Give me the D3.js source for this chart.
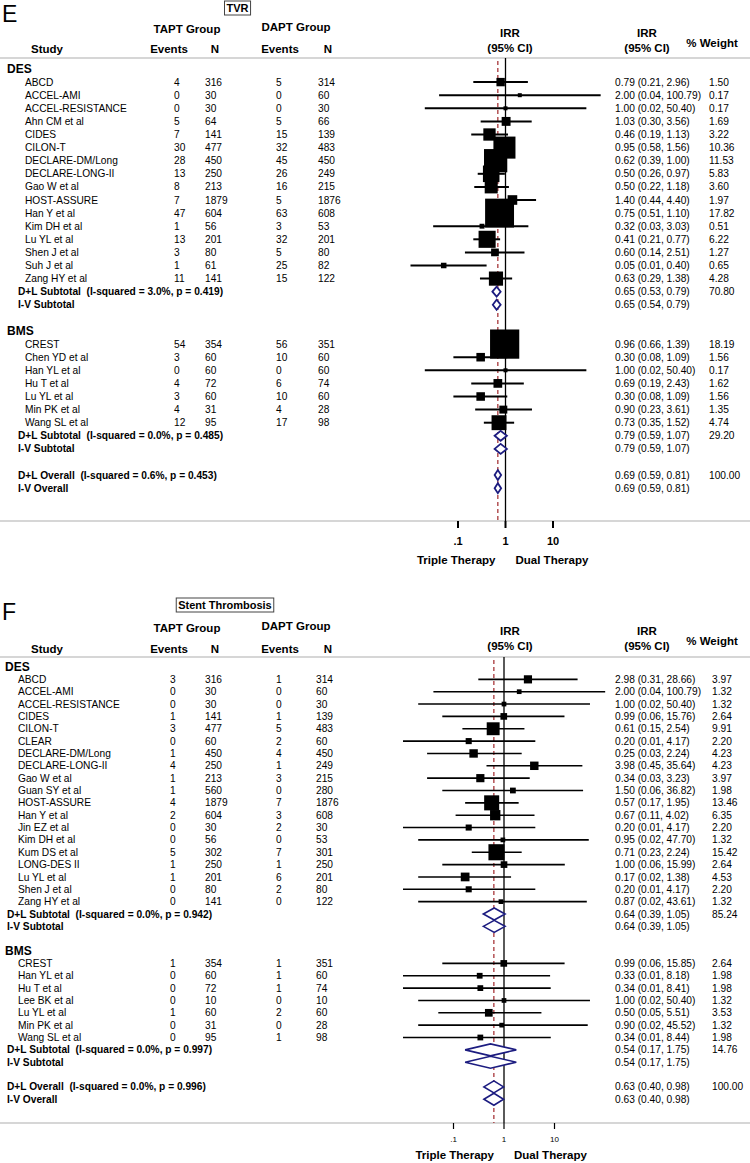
<!DOCTYPE html>
<html><head><meta charset="utf-8">
<script src="https://cdn.jsdelivr.net/npm/d3@7"></script>
<style>body{margin:0;background:#fff} svg text{font-family:"Liberation Sans",Arial,Helvetica,sans-serif;fill:#000;white-space:pre}</style>
</head><body><svg id="c" width="750" height="1163"></svg>
<script>
// ---- Panel E: TVR ----  [study, TAPT events, TAPT N, DAPT events, DAPT N, IRR, lower, upper, %weight]
const E_DES = [
 ["ABCD",4,316,5,314,0.79,0.21,2.96,1.50],
 ["ACCEL-AMI",0,30,0,60,2.00,0.04,100.79,0.17],
 ["ACCEL-RESISTANCE",0,30,0,30,1.00,0.02,50.40,0.17],
 ["Ahn CM et al",5,64,5,66,1.03,0.30,3.56,1.69],
 ["CIDES",7,141,15,139,0.46,0.19,1.13,3.22],
 ["CILON-T",30,477,32,483,0.95,0.58,1.56,10.36],
 ["DECLARE-DM/Long",28,450,45,450,0.62,0.39,1.00,11.53],
 ["DECLARE-LONG-II",13,250,26,249,0.50,0.26,0.97,5.83],
 ["Gao W et al",8,213,16,215,0.50,0.22,1.18,3.60],
 ["HOST-ASSURE",7,1879,5,1876,1.40,0.44,4.40,1.97],
 ["Han Y et al",47,604,63,608,0.75,0.51,1.10,17.82],
 ["Kim DH et al",1,56,3,53,0.32,0.03,3.03,0.51],
 ["Lu YL et al",13,201,32,201,0.41,0.21,0.77,6.22],
 ["Shen J et al",3,80,5,80,0.60,0.14,2.51,1.27],
 ["Suh J et al",1,61,25,82,0.05,0.01,0.40,0.65],
 ["Zang HY et al",11,141,15,122,0.63,0.29,1.38,4.28]
];
const E_DES_SUM = [["D+L Subtotal  (I-squared = 3.0%, p = 0.419)",0.65,0.53,0.79,70.80],["I-V Subtotal",0.65,0.54,0.79,null]];
const E_BMS = [
 ["CREST",54,354,56,351,0.96,0.66,1.39,18.19],
 ["Chen YD et al",3,60,10,60,0.30,0.08,1.09,1.56],
 ["Han YL et al",0,60,0,60,1.00,0.02,50.40,0.17],
 ["Hu T et al",4,72,6,74,0.69,0.19,2.43,1.62],
 ["Lu YL et al",3,60,10,60,0.30,0.08,1.09,1.56],
 ["Min PK et al",4,31,4,28,0.90,0.23,3.61,1.35],
 ["Wang SL et al",12,95,17,98,0.73,0.35,1.52,4.74]
];
const E_BMS_SUM = [["D+L Subtotal  (I-squared = 0.0%, p = 0.485)",0.79,0.59,1.07,29.20],["I-V Subtotal",0.79,0.59,1.07,null]];
const E_OVERALL = [["D+L Overall  (I-squared = 0.6%, p = 0.453)",0.69,0.59,0.81,100.00],["I-V Overall",0.69,0.59,0.81,null]];

// ---- Panel F: Stent Thrombosis ----
const F_DES = [
 ["ABCD",3,316,1,314,2.98,0.31,28.66,3.97],
 ["ACCEL-AMI",0,30,0,60,2.00,0.04,100.79,1.32],
 ["ACCEL-RESISTANCE",0,30,0,30,1.00,0.02,50.40,1.32],
 ["CIDES",1,141,1,139,0.99,0.06,15.76,2.64],
 ["CILON-T",3,477,5,483,0.61,0.15,2.54,9.91],
 ["CLEAR",0,60,2,60,0.20,0.01,4.17,2.20],
 ["DECLARE-DM/Long",1,450,4,450,0.25,0.03,2.24,4.23],
 ["DECLARE-LONG-II",4,250,1,249,3.98,0.45,35.64,4.23],
 ["Gao W et al",1,213,3,215,0.34,0.03,3.23,3.97],
 ["Guan SY et al",1,560,0,280,1.50,0.06,36.82,1.98],
 ["HOST-ASSURE",4,1879,7,1876,0.57,0.17,1.95,13.46],
 ["Han Y et al",2,604,3,608,0.67,0.11,4.02,6.35],
 ["Jin EZ et al",0,30,2,30,0.20,0.01,4.17,2.20],
 ["Kim DH et al",0,56,0,53,0.95,0.02,47.70,1.32],
 ["Kum DS et al",5,302,7,301,0.71,0.23,2.24,15.42],
 ["LONG-DES II",1,250,1,250,1.00,0.06,15.99,2.64],
 ["Lu YL et al",1,201,6,201,0.17,0.02,1.38,4.53],
 ["Shen J et al",0,80,2,80,0.20,0.01,4.17,2.20],
 ["Zang HY et al",0,141,0,122,0.87,0.02,43.61,1.32]
];
const F_DES_SUM = [["D+L Subtotal  (I-squared = 0.0%, p = 0.942)",0.64,0.39,1.05,85.24],["I-V Subtotal",0.64,0.39,1.05,null]];
const F_BMS = [
 ["CREST",1,354,1,351,0.99,0.06,15.85,2.64],
 ["Han YL et al",0,60,1,60,0.33,0.01,8.18,1.98],
 ["Hu T et al",0,72,1,74,0.34,0.01,8.41,1.98],
 ["Lee BK et al",0,10,0,10,1.00,0.02,50.40,1.32],
 ["Lu YL et al",1,60,2,60,0.50,0.05,5.51,3.53],
 ["Min PK et al",0,31,0,28,0.90,0.02,45.52,1.32],
 ["Wang SL et al",0,95,1,98,0.34,0.01,8.44,1.98]
];
const F_BMS_SUM = [["D+L Subtotal  (I-squared = 0.0%, p = 0.997)",0.54,0.17,1.75,14.76],["I-V Subtotal",0.54,0.17,1.75,null]];
const F_OVERALL = [["D+L Overall  (I-squared = 0.0%, p = 0.996)",0.63,0.40,0.98,100.00],["I-V Overall",0.63,0.40,0.98,null]];

const GROUP_LABELS = ["DES","BMS"];
const TICKS = [0.1, 1, 10];
const TICK_LABELS = [".1","1","10"];

const svg = d3.select("#c");
const f2 = d3.format(".2f");

function panel(cfg, groups, overall) {
  const g = svg.append("g");
  const x = d3.scaleLog().domain([0.1, 10]).range([cfg.xLo, cfg.xHi]);
  const rows = [];
  groups.forEach((gr, gi) => {
    rows.push({type:"group", label: GROUP_LABELS[gi]});
    gr.studies.forEach(s => rows.push({type:"study", d:s}));
    gr.sum.forEach(s => rows.push({type:"sum", d:s}));
    rows.push({type:"blank"});
  });
  overall.forEach(s => rows.push({type:"sum", d:s}));
  const y = d3.scaleLinear().domain([0, rows.length - 1]).range([cfg.row0, cfg.row0 + (rows.length - 1) * cfg.step]);
  rows.forEach((r, i) => r.y = y(i));

  g.append("text").attr("x", 2).attr("y", cfg.letterY).attr("font-size", 23).text(cfg.letter);
  const t = g.append("text").attr("x", cfg.titleX).attr("y", cfg.titleY).attr("text-anchor","middle")
    .attr("font-weight","bold").attr("font-size", 11).text(cfg.title);
  const bb = t.node().getBBox();
  g.append("rect").attr("x", bb.x - 2).attr("y", bb.y - 1).attr("width", bb.width + 4).attr("height", bb.height + 2)
    .attr("fill","none").attr("stroke","#444").attr("stroke-width",1);

  const hdr = (tx, xx, yy, anchor) => g.append("text").attr("x", xx).attr("y", yy).attr("text-anchor", anchor || "middle")
      .attr("font-weight","bold").attr("font-size", 11.5).text(tx);
  hdr("TAPT Group", 187, cfg.groupY);
  hdr("DAPT Group", 296, cfg.groupY - 2);
  hdr("Study", 47, cfg.colY);
  hdr("Events", 169, cfg.colY);
  hdr("N", 215, cfg.colY);
  hdr("Events", 280, cfg.colY);
  hdr("N", 328, cfg.colY);
  hdr("IRR", 510, cfg.irrY1);
  hdr("(95% CI)", 510, cfg.irrY2);
  hdr("IRR", 647, cfg.irrY1);
  hdr("(95% CI)", 647, cfg.irrY2);
  hdr("% Weight", 712, cfg.weightY);

  [cfg.headLine, cfg.axisY].forEach(yy => g.append("line").attr("x1",0).attr("x2",750).attr("y1",yy).attr("y2",yy)
     .attr("stroke","#c8c8c8").attr("stroke-width",1.5));

  const ov = overall[0][1];
  g.append("line").attr("x1", x(1)).attr("x2", x(1)).attr("y1", cfg.headLine).attr("y2", cfg.axisY)
    .attr("stroke","#000").attr("stroke-width",1.3);
  g.append("line").attr("x1", x(ov)).attr("x2", x(ov)).attr("y1", cfg.headLine + 3).attr("y2", cfg.axisY)
    .attr("stroke","#a0262a").attr("stroke-width",1.2).attr("stroke-dasharray","4,3");

  TICKS.forEach((tv, i) => {
    g.append("line").attr("x1", x(tv)).attr("x2", x(tv)).attr("y1", cfg.axisY).attr("y2", cfg.axisY + cfg.tickLen)
      .attr("stroke","#000").attr("stroke-width", cfg.tickW);
    g.append("text").attr("x", x(tv)).attr("y", cfg.tickLabY).attr("text-anchor","middle")
      .attr("font-size", cfg.tickFont).attr("font-weight", cfg.tickBold ? "bold" : "normal").text(TICK_LABELS[i]);
  });
  g.append("text").attr("x", x(1) - 10).attr("y", cfg.dirY).attr("text-anchor","end").attr("font-weight","bold").attr("font-size",11.5).text("Triple Therapy");
  g.append("text").attr("x", x(1) + 10).attr("y", cfg.dirY).attr("text-anchor","start").attr("font-weight","bold").attr("font-size",11.5).text("Dual Therapy");

  const txt = (tx, xx, yy, bold, size) => g.append("text").attr("x", xx).attr("y", yy).attr("dy","0.35em")
      .attr("font-size", size || 10.2).attr("font-weight", bold ? "bold" : "normal").text(tx);

  rows.forEach(r => {
    if (r.type === "group") {
      txt(r.label, cfg.groupX, r.y, true, 12);
    } else if (r.type === "study") {
      const d = r.d;
      txt(d[0], cfg.nameX, r.y);
      txt(d[1], cfg.tEvX, r.y); txt(d[2], 205, r.y); txt(d[3], 276, r.y); txt(d[4], cfg.dNX, r.y);
      txt(`${f2(d[5])} (${f2(d[6])}, ${f2(d[7])})`, 615, r.y);
      txt(f2(d[8]), cfg.wX, r.y);
      g.append("line").attr("x1", x(d[6])).attr("x2", x(d[7])).attr("y1", r.y).attr("y2", r.y)
        .attr("stroke","#000").attr("stroke-width", cfg.ciW);
      const s = Math.max(cfg.minBox, cfg.boxK * Math.sqrt(d[8]));
      g.append("rect").attr("x", x(d[5]) - s/2).attr("y", r.y - s/2).attr("width", s).attr("height", s).attr("fill","#000");
    } else if (r.type === "sum") {
      const d = r.d;
      txt(d[0], cfg.sumX, r.y, true);
      txt(`${f2(d[1])} (${f2(d[2])}, ${f2(d[3])})`, 615, r.y);
      if (d[4] !== null) txt(f2(d[4]), cfg.wX, r.y);
      const h = cfg.diamondH / 2;
      const pts = [[x(d[2]), r.y], [x(d[1]), r.y - h], [x(d[3]), r.y], [x(d[1]), r.y + h]];
      g.append("path").attr("d", d3.line()(pts) + "Z").attr("fill","#fff").attr("stroke","#1c1c80").attr("stroke-width", cfg.diamondW);
    }
  });
}

panel({letter:"E", letterY:22, title:"TVR", titleX:237.5, titleY:12, groupY:33, colY:53, irrY1:37, irrY2:52, weightY:47,
  headLine:58, row0:69, step:13.1, axisY:521, tickLen:7, tickW:2, tickLabY:545, tickFont:11, tickBold:true, dirY:564,
  xLo:458, xHi:553, groupX:7, nameX:25, sumX:18, tEvX:174, dNX:318, wX:709, ciW:2, boxK:6.85, minBox:4, diamondH:10, diamondW:1.8},
  [{studies:E_DES, sum:E_DES_SUM}, {studies:E_BMS, sum:E_BMS_SUM}], E_OVERALL);

panel({letter:"F", letterY:620, title:"Stent Thrombosis", titleX:225, titleY:609, groupY:632, colY:653, irrY1:635, irrY2:650, weightY:645,
  headLine:657, row0:667, step:12.35, axisY:1123, tickLen:6, tickW:1.2, tickLabY:1142, tickFont:8, tickBold:false, dirY:1159,
  xLo:453.5, xHi:554.5, groupX:5, nameX:18, sumX:7, tEvX:170, dNX:316, wX:712, ciW:1.6, boxK:4.1, minBox:4.5, diamondH:12, diamondW:1.6},
  [{studies:F_DES, sum:F_DES_SUM}, {studies:F_BMS, sum:F_BMS_SUM}], F_OVERALL);
</script>
</body></html>
